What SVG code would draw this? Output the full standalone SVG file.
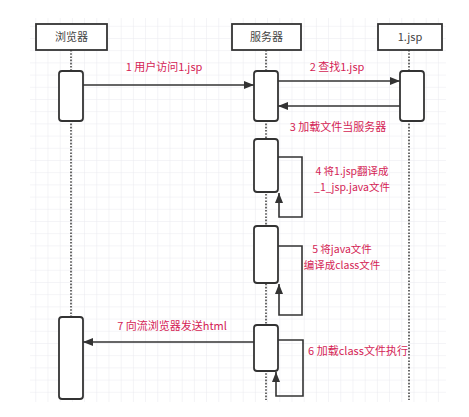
<svg xmlns="http://www.w3.org/2000/svg" width="469" height="417" viewBox="0 0 469 417">
  <style>
    .hdr { fill: #ffffff; stroke: #333333; stroke-width: 1.8; }
    .hdr-text { font-family: "Noto Sans CJK SC", "Noto Sans", sans-serif; font-size: 11px; fill: #444444; text-anchor: middle; }
    .life { fill: none; stroke: #444444; stroke-width: 1.6; stroke-dasharray: 1.6 1.6; }
    .act { fill: #ffffff; stroke: #333333; stroke-width: 1.8; }
    .msg { fill: none; stroke: #333333; stroke-width: 1.6; }
    .lbl { font-family: "Noto Sans CJK SC", "Noto Sans", sans-serif; font-size: 11px; fill: #d41d55; text-anchor: middle; }
    .lbl2 { font-size: 10.5px; }
  </style>
  <defs>
    <pattern id="grid" patternUnits="userSpaceOnUse" x="35.3" y="25.8" width="12.2" height="12.2">
      <path d="M0,0 H12.2 M0,0 V12.2" fill="none" stroke="#e9e9ef" stroke-width="1"/>
    </pattern>
    <marker id="arrow" viewBox="0 0 10 8" refX="10" refY="4" markerWidth="10" markerHeight="8" markerUnits="userSpaceOnUse" orient="auto">
      <path d="M0,0 L10,4 L0,8 z" fill="#333333"/>
    </marker>
  </defs>

  <rect width="469" height="417" fill="#ffffff"/>
  <rect x="30" y="18" width="416" height="384" fill="url(#grid)"/>

  <!-- lifelines -->
  <g id="lifelines">
    <path class="life" d="M71,50 V400"/>
    <path class="life" d="M266,50 V400"/>
    <path class="life" d="M409,50 V400"/>
  </g>

  <!-- participants -->
  <g id="browser">
    <rect class="hdr" x="36" y="24" width="71" height="26"/>
    <text class="hdr-text" x="71.5" y="41">浏览器</text>
    <rect class="act" x="59" y="71" width="24" height="50" rx="3"/>
    <rect class="act" x="59" y="317" width="24" height="82" rx="3"/>
  </g>

  <g id="server">
    <rect class="hdr" x="232" y="24" width="69" height="26"/>
    <text class="hdr-text" x="266.5" y="41">服务器</text>
    <rect class="act" x="254" y="71" width="24" height="50" rx="3"/>
    <rect class="act" x="254" y="139" width="24" height="53" rx="3"/>
    <rect class="act" x="254" y="226" width="24" height="57" rx="3"/>
    <rect class="act" x="254" y="325" width="24" height="46" rx="3"/>
  </g>

  <g id="jsp">
    <rect class="hdr" x="378" y="24" width="64" height="26"/>
    <text class="hdr-text" x="410" y="41">1.jsp</text>
    <rect class="act" x="400" y="71" width="24" height="50" rx="3"/>
  </g>

  <!-- messages -->
  <g id="connectors">
    <path class="msg" d="M83,85 H254" marker-end="url(#arrow)"/>
    <path class="msg" d="M278,81 H400" marker-end="url(#arrow)"/>
    <path class="msg" d="M400,106 H278" marker-end="url(#arrow)"/>
    <path class="msg" d="M278,157 H302 V217 H279 V193" marker-end="url(#arrow)"/>
    <path class="msg" d="M278,246 H302 V315 H279 V284" marker-end="url(#arrow)"/>
    <path class="msg" d="M278,340 H303 V396 H276 V372" marker-end="url(#arrow)"/>
    <path class="msg" d="M254,342 H83" marker-end="url(#arrow)"/>
  </g>

  <!-- message labels -->
  <g id="labels">
    <text class="lbl" x="164" y="71">1 用户访问1.jsp</text>
    <text class="lbl" x="337" y="71">2 查找1.jsp</text>
    <text class="lbl" x="338" y="131">3 加载文件当服务器</text>
    <text class="lbl lbl2" x="352" y="175">4 将1.jsp翻译成</text>
    <text class="lbl lbl2" x="352" y="191">_1_jsp.java文件</text>
    <text class="lbl lbl2" x="342" y="253">5 将java文件</text>
    <text class="lbl lbl2" x="342" y="269">编译成class文件</text>
    <text class="lbl" x="358" y="355">6 加载class文件执行</text>
    <text class="lbl" x="172" y="330">7 向流浏览器发送html</text>
  </g>
</svg>
